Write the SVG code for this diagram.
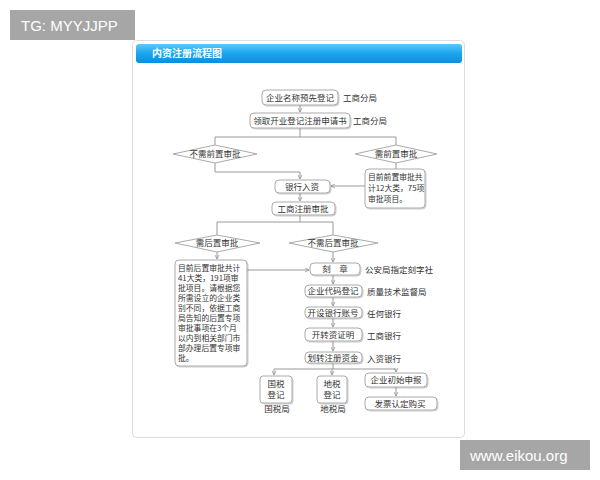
<svg xmlns="http://www.w3.org/2000/svg" width="600" height="480" viewBox="0 0 600 480">
<defs>
<linearGradient id="hdr" x1="0" y1="0" x2="0" y2="1">
<stop offset="0" stop-color="#5cc8f8"/>
<stop offset="0.5" stop-color="#1aa6ee"/>
<stop offset="1" stop-color="#0b8ee0"/>
</linearGradient>
<marker id="ah" viewBox="0 0 6 6" refX="5" refY="3" markerWidth="5" markerHeight="5" orient="auto" markerUnits="userSpaceOnUse">
<path d="M0,0.5 L5,3 L0,5.5" fill="none" stroke="#999" stroke-width="1"/>
</marker>
<filter id="sh" x="-10%" y="-10%" width="130%" height="140%">
<feDropShadow dx="1" dy="1" stdDeviation="0.6" flood-color="#000" flood-opacity="0.2"/>
</filter>
</defs>
<style>
.box{fill:#fff;stroke:#aaa;stroke-width:1;filter:url(#sh)}
.dia{fill:#fff;stroke:#aaa;stroke-width:1}
.t{font-family:"Noto Sans CJK SC","Liberation Sans",sans-serif;font-size:8.5px;fill:#333}
.s{font-size:7.8px}
.c{text-anchor:middle}
.ln{fill:none;stroke:#999;stroke-width:1}
.ar{fill:none;stroke:#999;stroke-width:1;marker-end:url(#ah)}
.wm{font-family:"Liberation Sans",sans-serif;font-size:15px;fill:#fff}
</style>
<rect width="600" height="480" fill="#fff"/>
<g id="panel">
<rect x="132.5" y="40.5" width="332" height="397" rx="4" fill="#fff" stroke="#ddd"/>
<rect x="136" y="44" width="326" height="19" rx="3" fill="url(#hdr)"/>
<text x="152" y="57" font-family="'Noto Sans CJK SC',sans-serif" font-size="10px" font-weight="bold" fill="#fff">内资注册流程图</text>
</g>
<g id="connectors">
<path class="ar" d="M300,105 V112"/>
<path class="ln" d="M300,128 V137 M215,137 H396 M215,137 V145 M396,137 V145"/>
<path class="ar" d="M215,163 V172 H300 V179"/>
<path class="ln" d="M396,163 V169"/>
<path class="ar" d="M365,186 H331"/>
<path class="ar" d="M300,193 V201"/>
<path class="ln" d="M300,215 V222 M217,222 H333 M217,222 V235 M333,222 V235"/>
<path class="ar" d="M217,252 V259"/>
<path class="ar" d="M247,270 H309"/>
<path class="ar" d="M333,252 V262"/>
<path class="ar" d="M333,275 V284"/>
<path class="ar" d="M333,297 V306"/>
<path class="ar" d="M333,318 V327"/>
<path class="ar" d="M333,341 V351"/>
<path class="ln" d="M333,363 V369 M274,369 H396"/>
<path class="ar" d="M274,369 V375"/>
<path class="ar" d="M332,369 V375"/>
<path class="ar" d="M396,369 V372"/>
<path class="ar" d="M396,387 V396"/>
</g>
<g id="n1"><rect class="box" x="262" y="90" width="76" height="15" rx="4"/><text class="t c" x="300" y="101">企业名称预先登记</text><text class="t" x="343" y="101">工商分局</text></g>
<g id="n2"><rect class="box" x="250" y="113" width="100" height="15" rx="4"/><text class="t c" x="300" y="124">领取开业登记注册申请书</text><text class="t" x="353" y="124">工商分局</text></g>
<g id="d1"><polygon class="dia" points="173,154 215,145 257,154 215,163"/><text class="t c" x="215" y="157">不需前置审批</text></g>
<g id="d2"><polygon class="dia" points="355,154 396,145 437,154 396,163"/><text class="t c" x="396" y="157">需前置审批</text></g>
<g id="n3"><rect class="box" x="275" y="180" width="55" height="13" rx="4"/><text class="t c" x="302" y="190">银行入资</text></g>
<g id="n4"><rect class="box" x="365" y="169" width="60" height="39" rx="4"/><text class="t s" x="368" y="180">目前前置审批共</text><text class="t s" x="368" y="191">计12大类，75项</text><text class="t s" x="368" y="202">审批项目。</text></g>
<g id="n5"><rect class="box" x="272" y="202" width="63" height="13" rx="4"/><text class="t c" x="303" y="212">工商注册审批</text></g>
<g id="d3"><polygon class="dia" points="175,243 217,235 260,243 217,252"/><text class="t c" x="217" y="246">需后置审批</text></g>
<g id="d4"><polygon class="dia" points="289,243 333,235 378,243 333,252"/><text class="t c" x="333" y="246">不需后置审批</text></g>
<g id="n6"><rect class="box" x="175" y="260" width="72" height="106" rx="4"/>
<text class="t s" x="178" y="271">目前后置审批共计</text>
<text class="t s" x="178" y="281">41大类，191项审</text>
<text class="t s" x="178" y="291">批项目。请根据您</text>
<text class="t s" x="178" y="301">所需设立的企业类</text>
<text class="t s" x="178" y="311">别不同，依据工商</text>
<text class="t s" x="178" y="321">局告知的后置专项</text>
<text class="t s" x="178" y="331">审批事项在3个月</text>
<text class="t s" x="178" y="341">以内到相关部门市</text>
<text class="t s" x="178" y="351">部办理后置专项审</text>
<text class="t s" x="178" y="361">批。</text></g>
<g id="n7"><rect class="box" x="310" y="263" width="50" height="12" rx="4"/><text class="t c" x="335" y="272">刻　章</text><text class="t" x="365" y="273">公安局指定刻字社</text></g>
<g id="n8"><rect class="box" x="305" y="285" width="57" height="12" rx="4"/><text class="t c" x="333" y="294">企业代码登记</text><text class="t" x="367" y="295">质量技术监督局</text></g>
<g id="n9"><rect class="box" x="305" y="307" width="57" height="11" rx="4"/><text class="t c" x="333" y="316">开设银行账号</text><text class="t" x="367" y="317">任何银行</text></g>
<g id="n10"><rect class="box" x="305" y="328" width="57" height="13" rx="4"/><text class="t c" x="333" y="338">开转资证明</text><text class="t" x="367" y="339">工商银行</text></g>
<g id="n11"><rect class="box" x="305" y="352" width="57" height="11" rx="4"/><text class="t c" x="333" y="361">划转注册资金</text><text class="t" x="367" y="362">入资银行</text></g>
<g id="n12"><rect class="box" x="260" y="376" width="32" height="27" rx="3"/><text class="t c" x="276" y="387">国税</text><text class="t c" x="276" y="398">登记</text><text class="t c" x="277" y="412">国税局</text></g>
<g id="n13"><rect class="box" x="317" y="376" width="30" height="27" rx="3"/><text class="t c" x="332" y="387">地税</text><text class="t c" x="332" y="398">登记</text><text class="t c" x="333" y="412">地税局</text></g>
<g id="n14"><rect class="box" x="365" y="373" width="62" height="14" rx="4"/><text class="t c" x="396" y="383">企业初始申报</text></g>
<g id="n15"><rect class="box" x="365" y="397" width="72" height="13" rx="4"/><text class="t c" x="400" y="407">发票认定购买</text></g>
<g id="wm1"><rect x="10" y="10" width="125" height="30" fill="#a6a6a6"/><text class="wm" x="21" y="31">TG: MYYJJPP</text></g>
<g id="wm2"><rect x="460" y="440" width="130" height="30" fill="#a6a6a6"/><text class="wm" x="470" y="461">www.eikou.org</text></g>
</svg>
